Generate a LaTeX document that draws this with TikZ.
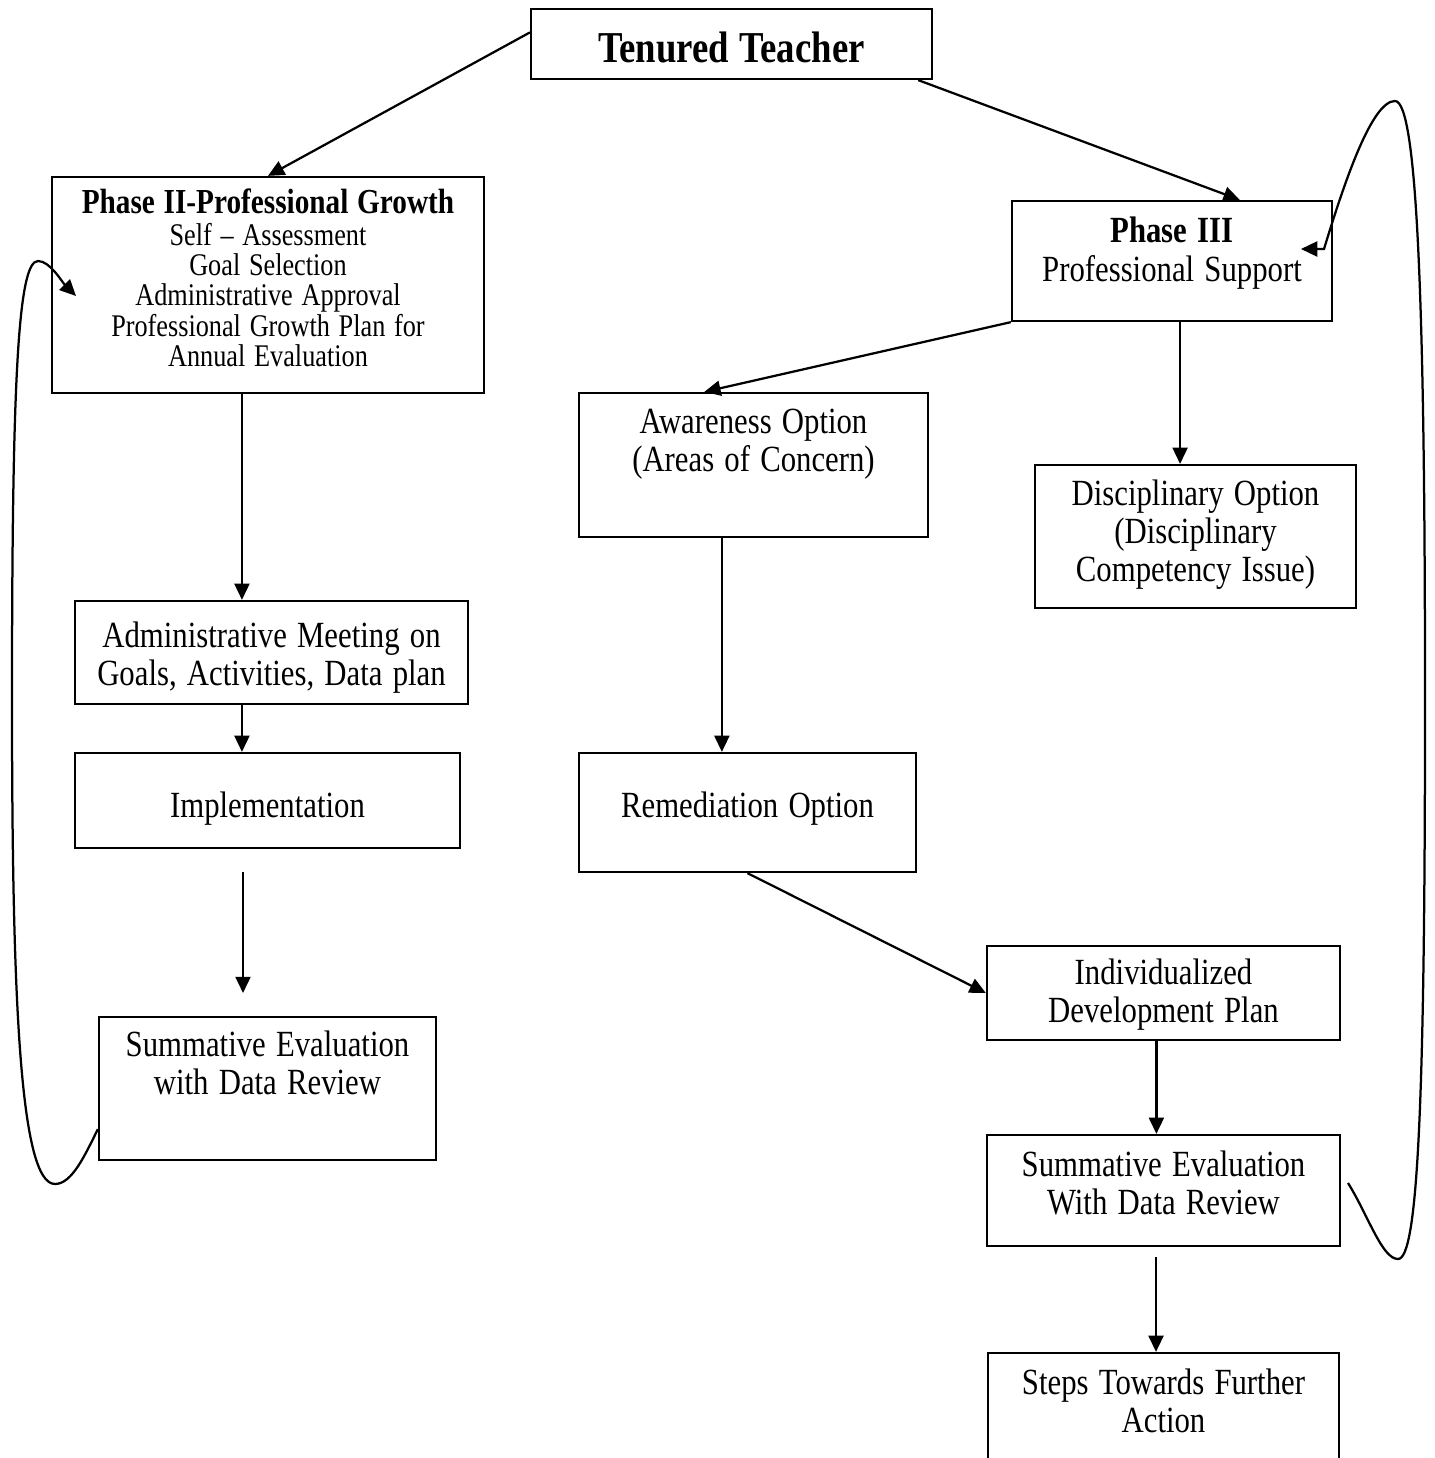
\documentclass[tikz,border=0pt]{standalone}
\usepackage{fontspec}
\setmainfont{Liberation Serif}
\usetikzlibrary{arrows.meta, calc, positioning}

\begin{document}
\begin{tikzpicture}[x=0.4pt, y=-0.4pt, >={Triangle[length=6.5pt, width=6pt]},
    box/.style={draw, line width=0.9pt, inner sep=0pt},
    txt/.style={anchor=base, align=center, text width=165pt, inner sep=0pt, yscale=1.2,
        font=\fontsize{12.3}{12.67}\selectfont},
    small/.style={txt, font=\fontsize{10.5}{10.1}\selectfont},
    link/.style={line width=0.9pt, ->}]
    \useasboundingbox (0,0) rectangle (1434,1458);
    \clip (0,0) rectangle (1434,1458);

    % Boxes
    \node[box, minimum width=160.4pt, minimum height=28pt] (teacher) at (731.5,44) {};
    \node[box, minimum width=172.8pt, minimum height=86.4pt] (p2) at (268,285) {};
    \node[box, minimum width=128pt, minimum height=48pt] (p3) at (1172,261) {};
    \node[box, minimum width=139.6pt, minimum height=57.6pt] (aware) at (753.5,465) {};
    \node[box, minimum width=128.4pt, minimum height=57.2pt] (disc) at (1195.5,536.5) {};
    \node[box, minimum width=157.2pt, minimum height=41.2pt] (meet) at (271.5,652.5) {};
    \node[box, minimum width=154pt, minimum height=38pt] (impl) at (267.5,800.5) {};
    \node[box, minimum width=134.8pt, minimum height=47.6pt] (remed) at (747.5,812.5) {};
    \node[box, minimum width=134.8pt, minimum height=57.2pt] (sumL) at (267.5,1088.5) {};
    \node[box, minimum width=141.2pt, minimum height=37.6pt] (indiv) at (1163.5,993) {};
    \node[box, minimum width=141.2pt, minimum height=44.4pt] (sumR) at (1163.5,1190.5) {};
    \node[box, minimum width=140.4pt, minimum height=58.8pt] (steps) at (1163.5,1426.5) {};

    % Texts
    \node[txt] (teacherT) at (731.5,63) {\fontsize{14.7}{15}\selectfont\bfseries Tenured Teacher};
    \node[small] (p2T) at (268,214) {{\fontsize{11.7}{10.1}\selectfont\bfseries Phase II-Professional Growth}\\[0.3pt]
        Self – Assessment\\ Goal Selection\\ Administrative Approval\\
        Professional Growth Plan for\\ Annual Evaluation};
    \node[txt] (p3T) at (1172,243) {{\bfseries Phase III}\\ Professional Support};
    \node[txt] (awareT) at (753.5,433) {Awareness Option\\ (Areas of Concern)};
    \node[txt] (discT) at (1195.5,505) {Disciplinary Option\\ (Disciplinary\\ Competency Issue)};
    \node[txt] (meetT) at (271.5,647) {Administrative Meeting on\\ Goals, Activities, Data plan};
    \node[txt] (implT) at (267.5,817) {Implementation};
    \node[txt] (remedT) at (747.5,817) {Remediation Option};
    \node[txt] (sumLT) at (267.5,1056) {Summative Evaluation\\ with Data Review};
    \node[txt] (indivT) at (1163.5,984) {Individualized\\ Development Plan};
    \node[txt] (sumRT) at (1163.5,1176) {Summative Evaluation\\ With Data Review};
    \node[txt] (stepsT) at (1163.5,1394) {Steps Towards Further\\ Action};

    % From the teacher to both phases
    \draw[link] ($(teacher.north west)!.34!(teacher.south west)$) -- (p2.north);
    \draw[link] ($(teacher.south west)!.963!(teacher.south east)$) -- ($(p3.north west)!.71!(p3.north east)$);

    % Phase III options
    \draw[link] (p3.south west) -- ($(aware.north west)!.36!(aware.north east)$);
    \coordinate (p3out) at ($(p3.south west)!.525!(p3.south east)$);
    \draw[link] (p3out) -- (p3out |- disc.north);

    % Phase II column
    \coordinate (p2out) at ($(p2.south west)!.44!(p2.south east)$);
    \draw[link] (p2out) -- (p2out |- meet.north);
    \draw[link] (p2out |- meet.south) -- (p2out |- impl.north);
    \coordinate (gapTop) at (243,872);
    \coordinate (gapEnd) at (243,993);
    \draw[link] (gapTop) -- (gapEnd);

    % Awareness column
    \coordinate (awareOut) at ($(aware.south west)!.41!(aware.south east)$);
    \draw[link] (awareOut) -- (awareOut |- remed.north);
    \draw[link] (remed.south) -- (indiv.west);
    \coordinate (indivOut) at ($(indiv.south west)!.48!(indiv.south east)$);
    \draw[link] (indivOut) -- (indivOut |- sumR.north);
    \coordinate (stepsIn) at (1156,1257);
    \draw[link] (stepsIn) -- (stepsIn |- steps.north);

    % Loop back to Phase II
    \coordinate (loopL) at ($(sumL.north west)!.78!(sumL.south west)$);
    \coordinate (loopLend) at (76,296);
    \draw[link] (loopL) .. controls (85,1155) and (72,1184) .. (55,1184)
        .. controls (20,1184) and (12,1000) .. (12,700)
        .. controls (12,380) and (18,261) .. (38,261)
        .. controls (50,261) and (62,282) .. (loopLend);

    % Loop back to Phase III
    \coordinate (loopR) at (1348,1183);
    \coordinate (loopRend) at (1301,249);
    \draw[link] (loopR) .. controls (1368,1215) and (1382,1259) .. (1398,1259)
        .. controls (1418,1259) and (1425,1100) .. (1425,700)
        .. controls (1425,320) and (1418,101) .. (1395,101)
        .. controls (1372,101) and (1345,180) .. (1324,249) -- (loopRend);
\end{tikzpicture}
\end{document}
